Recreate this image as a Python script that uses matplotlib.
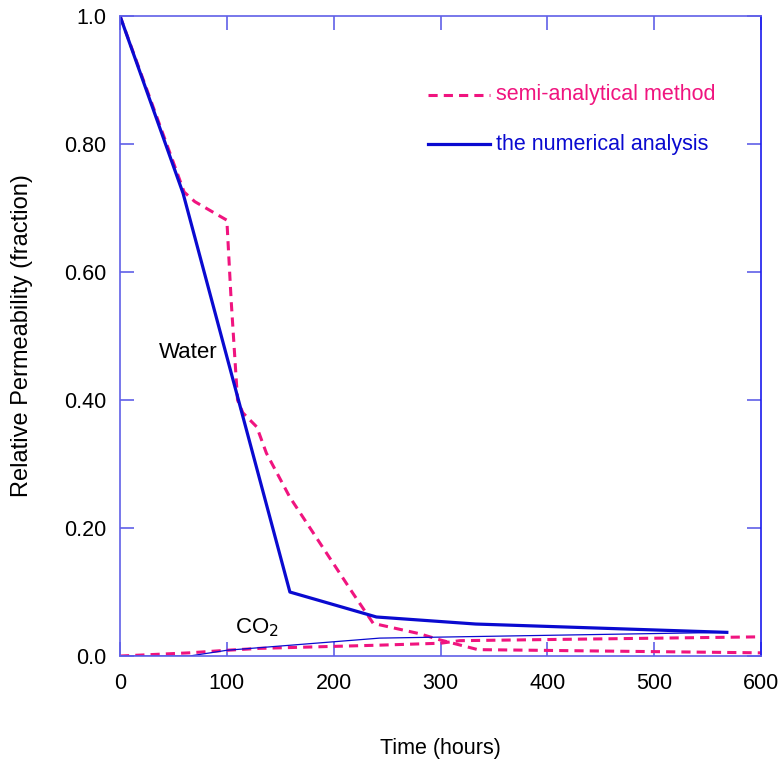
import matplotlib
matplotlib.use("Agg")
import matplotlib.pyplot as plt

plt.rcParams['font.family'] = ['Liberation Sans', 'DejaVu Sans']

# water - numerical analysis
water_num_t = [0, 59, 159, 240, 333, 568]
water_num_k = [1.0, 0.723, 0.100, 0.061, 0.050, 0.037]

# water - semi-analytical method
water_semi_t = [0, 60, 70, 100, 104, 110, 115, 128, 137, 159, 218, 237, 280, 300, 335, 600]
water_semi_k = [1.0, 0.725, 0.71, 0.681, 0.556, 0.40, 0.38, 0.358, 0.317, 0.248, 0.098, 0.051, 0.035, 0.025, 0.010, 0.005]

# CO2 - numerical analysis
co2_num_t = [0, 65, 100, 243, 568]
co2_num_k = [0.0, 0.0, 0.009, 0.028, 0.037]

# CO2 - semi-analytical method
co2_semi_t = [0, 65, 100, 131, 243, 300, 318, 600]
co2_semi_k = [0.0, 0.005, 0.009, 0.012, 0.017, 0.020, 0.024, 0.030]

x_ticks = [0, 100, 200, 300, 400, 500, 600]
y_ticks = [0.0, 0.2, 0.4, 0.6, 0.8, 1.0]
y_tick_labels = ["0.0", "0.20", "0.40", "0.60", "0.80", "1.0"]

MAGENTA = '#f0147f'
BLUE = '#0a0ad0'
SPINE = '#6060e8'

fig = plt.figure(figsize=(7.81, 7.60), dpi=100)
ax = fig.add_axes([0.1537, 0.1368, 0.8207, 0.8421])

ax.plot(water_semi_t, water_semi_k, color=MAGENTA, lw=2.2, ls=(0, (3, 2)))
ax.plot(co2_semi_t, co2_semi_k, color=MAGENTA, lw=2.2, ls=(0, (3, 2)))
ax.plot(water_num_t, water_num_k, color=BLUE, lw=2.3)
ax.plot(co2_num_t, co2_num_k, color=BLUE, lw=0.9)

ax.set_xlim(0, 600)
ax.set_ylim(0, 1.0)
ax.set_xticks(x_ticks)
ax.set_yticks(y_ticks)
ax.set_yticklabels(y_tick_labels)
ax.tick_params(direction='in', length=10, width=1.2, color=SPINE,
               labelsize=15.5, pad=10, top=True, right=True)
ax.tick_params(axis='x', pad=12)
for s in ax.spines.values():
    s.set_color(SPINE)
    s.set_linewidth(1.2)
ax.spines['right'].set_color('#1a1aee')

ax.set_xlabel("Time (hours)", fontsize=15.5, labelpad=32)
ax.set_ylabel("Relative Permeability (fraction)", fontsize=17, labelpad=22)

ax.text(64, 0.475, "Water", fontsize=16, ha='center', va='center')
ax.text(128, 0.045, "CO$_2$", fontsize=16, ha='center', va='center')

# legend drawn by hand like the original
ax.plot([288, 346], [0.877, 0.877], color=MAGENTA, lw=2.2, ls=(0, (3, 2)))
ax.text(352, 0.877, "semi-analytical method", color=MAGENTA, fontsize=15.5, va='center')
ax.plot([288, 346], [0.800, 0.800], color=BLUE, lw=2.3)
ax.text(352, 0.800, "the numerical analysis", color=BLUE, fontsize=15.5, va='center')

fig.savefig("out.png", dpi=100)
